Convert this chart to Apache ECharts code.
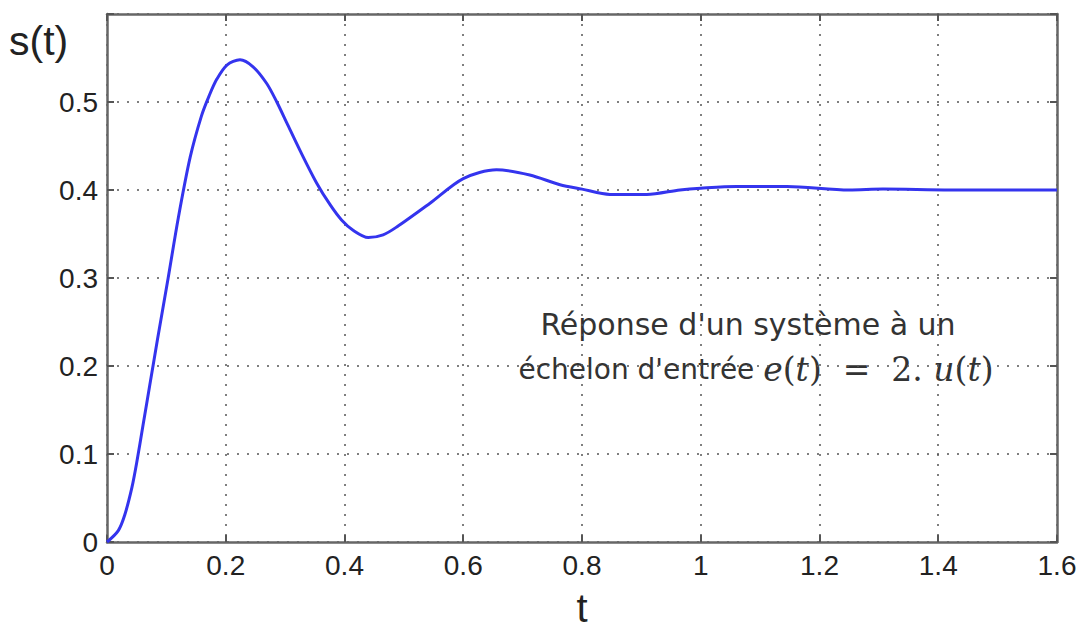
<!DOCTYPE html>
<html>
<head>
<meta charset="utf-8">
<script src="https://cdn.jsdelivr.net/npm/echarts@6/dist/echarts.min.js"></script>
<style>
html, body { margin: 0; padding: 0; background: #fff; }
#main { width: 1086px; height: 630px; }
</style>
</head>
<body>
<div id="main"></div>
<script>
// temps t (s) et réponse s(t)
var tValues = [0, 0.019, 0.030, 0.042, 0.050, 0.061, 0.072, 0.085, 0.103, 0.120, 0.140, 0.159, 0.172, 0.185, 0.202, 0.224, 0.246, 0.269, 0.286, 0.303, 0.325, 0.353, 0.376, 0.395, 0.415, 0.440, 0.465, 0.488, 0.544, 0.600, 0.656, 0.712, 0.763, 0.800, 0.847, 0.909, 0.965, 1.0, 1.06, 1.145, 1.25, 1.307, 1.42, 1.6];
var sValues = [0, 0.013, 0.031, 0.062, 0.090, 0.134, 0.178, 0.230, 0.300, 0.368, 0.437, 0.484, 0.507, 0.526, 0.542, 0.548, 0.540, 0.521, 0.500, 0.476, 0.445, 0.408, 0.383, 0.366, 0.354, 0.346, 0.349, 0.358, 0.385, 0.413, 0.423, 0.417, 0.406, 0.401, 0.395, 0.395, 0.400, 0.402, 0.404, 0.404, 0.400, 0.401, 0.400, 0.400];
var xTicks = [0, 0.2, 0.4, 0.6, 0.8, 1, 1.2, 1.4, 1.6];
var yTicks = [0, 0.1, 0.2, 0.3, 0.4, 0.5];

var myChart = echarts.init(document.getElementById('main'), null, { renderer: 'svg' });

var points = [];
for (var i = 0; i < tValues.length; i++) {
    points.push([tValues[i], sValues[i]]);
}

var gridStyle = {
    show: true,
    lineStyle: { color: '#555', width: 1.5, type: [2, 8] }
};
var frameLine = { show: true, onZero: false, lineStyle: { color: '#666', width: 2.5 } };
var tickIn = { show: true, inside: true, length: 7, lineStyle: { color: '#555', width: 2 } };

var option = {
    animation: false,
    backgroundColor: '#fff',
    grid: { left: 107, right: 29, top: 14, bottom: 88, outerBoundsMode: 'none', containLabel: false },
    xAxis: [{
        type: 'value',
        min: 0, max: 1.6, interval: 0.2,
        axisLine: frameLine,
        axisTick: tickIn,
        splitLine: gridStyle,
        axisLabel: {
            color: '#222', fontSize: 28, fontFamily: 'Liberation Sans', margin: 9,
            formatter: function (v) {
                var r = Math.round(v * 10) / 10;
                return xTicks.indexOf(r) >= 0 ? String(r) : '';
            }
        },
        name: 't', nameLocation: 'middle', nameGap: 46,
        nameTextStyle: { color: '#222', fontSize: 40, fontFamily: 'Liberation Sans' }
    }, {
        type: 'value', position: 'top',
        min: 0, max: 1.6, interval: 0.2,
        axisLine: frameLine, axisTick: tickIn,
        axisLabel: { show: false }, splitLine: { show: false }
    }],
    yAxis: [{
        type: 'value',
        min: 0, max: 0.6, interval: 0.1,
        axisLine: frameLine,
        axisTick: tickIn,
        splitLine: gridStyle,
        axisLabel: {
            color: '#222', fontSize: 28, fontFamily: 'Liberation Sans', margin: 9,
            formatter: function (v) {
                var r = Math.round(v * 10) / 10;
                return yTicks.indexOf(r) >= 0 ? String(r) : '';
            }
        }
    }, {
        type: 'value', position: 'right',
        min: 0, max: 0.6, interval: 0.1,
        axisLine: frameLine, axisTick: tickIn,
        axisLabel: { show: false }, splitLine: { show: false }
    }],
    graphic: [{
        type: 'text', left: 9, top: 20,
        style: { text: 's(t)', fill: '#222', fontSize: 41, fontFamily: 'Liberation Sans' }
    }, {
        type: 'text', x: 748, y: 309,
        style: {
            text: 'Réponse d\'un système à un', textAlign: 'center',
            fill: '#333', fontSize: 30, fontFamily: 'DejaVu Sans'
        }
    }, {
        type: 'text', x: 756, y: 353,
        style: {
            text: '{a|échelon d\'entrée }{m|e}{b|(}{m|t}{b|)  =  2. }{m|u}{b|(}{m|t}{b|)}',
            textAlign: 'center',
            rich: {
                a: { fill: '#333', fontSize: 28, fontFamily: 'DejaVu Sans' },
                m: { fill: '#333', fontSize: 33, fontFamily: 'DejaVu Serif', fontStyle: 'italic' },
                b: { fill: '#333', fontSize: 33, fontFamily: 'DejaVu Serif' }
            }
        }
    }],
    series: [{
        name: 's(t)',
        type: 'line',
        data: points,
        smooth: 0.3,
        showSymbol: false,
        lineStyle: { color: '#3434ee', width: 3 }
    }]
};
myChart.setOption(option);
</script>
</body>
</html>
